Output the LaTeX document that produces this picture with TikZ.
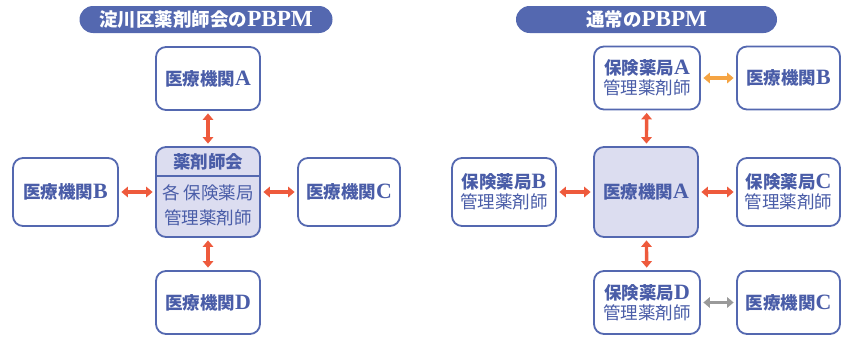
\documentclass[tikz,border=0pt]{standalone}
\usepackage{fontspec}
\setmainfont{Noto Sans CJK JP}
\newfontfamily\lat[Scale=1.25]{Liberation Serif}
\usetikzlibrary{arrows.meta}
\definecolor{bblue}{HTML}{5468B0}
\definecolor{tblue}{HTML}{4A5DA8}
\definecolor{lav}{HTML}{DCDDF0}
\definecolor{ared}{HTML}{EE5A3C}
\definecolor{aorange}{HTML}{F5A443}
\definecolor{agray}{HTML}{9A9A9A}
\newcommand{\lt}[1]{{\lat\bfseries #1}}
\tikzset{
  box/.style={draw=bblue, line width=1.8pt, rounded corners=10pt, fill=white,
    minimum width=104pt, minimum height=63pt, inner sep=0pt, text=tblue, align=center,
    font=\fontsize{17.5}{22}\selectfont},
  bigbox/.style={box, fill=lav, minimum height=90pt},
  pill/.style={fill=bblue, rounded corners=13.5pt, minimum width=253pt, minimum height=27pt,
    inner sep=0pt, text=white, font=\fontsize{18.5}{20}\selectfont\bfseries},
  dbl/.style={{Triangle[length=6.5pt,width=10.5pt]}-{Triangle[length=6.5pt,width=10.5pt]}, line width=3.4pt, shorten >=2.5pt, shorten <=2.5pt},
}
\begin{document}
\begin{tikzpicture}[x=1pt,y=-1pt]
\useasboundingbox (0,0) rectangle (845,340);
% left
\node[pill] (t1) at (206,19.5) {淀川区薬剤師会の\lt{PBPM}};
\node[box] (la) at (208,78.5) {\bfseries 医療機関\lt{A}};
\node[bigbox] (lc) at (208,192) {};
\draw[bblue, line width=1.8pt] ([yshift=-30pt]lc.north west) -- ([yshift=-30pt]lc.north east);
\node[text=tblue, font=\fontsize{17.5}{20}\selectfont\bfseries] (lch) at (208,162) {薬剤師会};
\node[text=tblue, font=\fontsize{17.5}{20}\selectfont] (lcl1) at (208,193) {各 保険薬局};
\node[text=tblue, font=\fontsize{17.5}{20}\selectfont] (lcl2) at (208,218) {管理薬剤師};
\node[box, minimum width=105pt, minimum height=68pt] (lb) at (65.5,192) {\bfseries 医療機関\lt{B}};
\node[box, minimum width=102pt, minimum height=68pt] (lcc) at (349,192) {\bfseries 医療機関\lt{C}};
\node[box] (ld) at (208,302.5) {\bfseries 医療機関\lt{D}};
\draw[dbl, ared] (la) -- (lc);
\draw[dbl, ared] (lb) -- (lc);
\draw[dbl, ared] (lc) -- (lcc);
\draw[dbl, ared] (lc) -- (ld);
% right
\node[pill, minimum width=261pt] (t2) at (646.5,19.5) {通常の\lt{PBPM}};
\node[box, minimum width=106pt] (pa) at (647,78) {{\bfseries 保険薬局\lt{A}}\\[-2pt]管理薬剤師};
\node[box, minimum width=103pt] (mb) at (788.5,78) {\bfseries 医療機関\lt{B}};
\node[box, minimum width=104pt, minimum height=68pt] (pb) at (504,192) {{\bfseries 保険薬局\lt{B}}\\[-2pt]管理薬剤師};
\node[bigbox] (ma) at (646,192) {\bfseries 医療機関\lt{A}};
\node[box, minimum width=103pt, minimum height=68pt] (pc) at (788.5,192) {{\bfseries 保険薬局\lt{C}}\\[-2pt]管理薬剤師};
\node[box, minimum width=106pt] (pd) at (647,302.5) {{\bfseries 保険薬局\lt{D}}\\[-2pt]管理薬剤師};
\node[box, minimum width=103pt] (mc) at (788.5,302.5) {\bfseries 医療機関\lt{C}};
\draw[dbl, aorange] (pa) -- (mb);
\draw[dbl, agray] (pd) -- (mc);
\draw[dbl, ared] (pa) -- (ma);
\draw[dbl, ared] (pb) -- (ma);
\draw[dbl, ared] (ma) -- (pc);
\draw[dbl, ared] (ma) -- (pd);
\end{tikzpicture}
\end{document}
